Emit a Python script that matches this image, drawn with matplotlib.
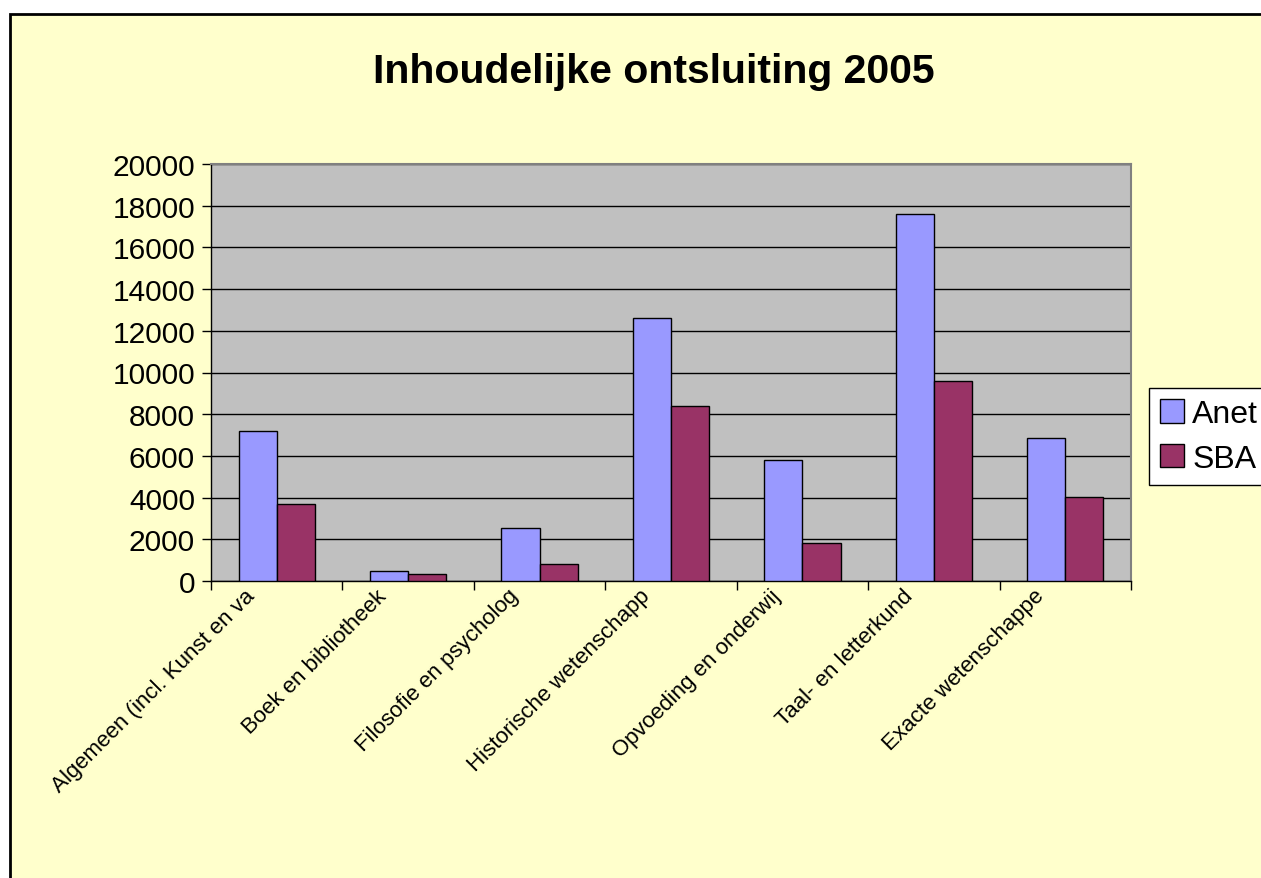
import numpy as np
import matplotlib
matplotlib.use('Agg')
import matplotlib.pyplot as plt
from matplotlib.patches import Rectangle
from matplotlib.transforms import ScaledTranslation

plt.rcParams['font.family'] = ['Liberation Sans', 'DejaVu Sans']

title = "Inhoudelijke ontsluiting 2005"
categories = ["Algemeen (incl. Kunst en va", "Boek en bibliotheek", "Filosofie en psycholog",
              "Historische wetenschapp", "Opvoeding en onderwij", "Taal- en letterkund",
              "Exacte wetenschappe"]
anet = [7200, 500, 2550, 12600, 5800, 17600, 6850]
sba = [3700, 330, 800, 8400, 1800, 9600, 4050]
yticks = np.arange(0, 20001, 2000)

fig = plt.figure(figsize=(12.61, 8.79), dpi=100)
fig.patch.set_facecolor('white')
# yellow chart area with black border (runs off right/bottom edge)
fig.patches.append(Rectangle((10 / 1261, -0.01), 1.0, 1 - 15 / 879 + 0.01,
                             transform=fig.transFigure, facecolor='#FFFFCC',
                             edgecolor='black', linewidth=2, zorder=-10))

ax = fig.add_axes([211 / 1261, 1 - 582 / 879, 920 / 1261, 417 / 879])
ax.set_facecolor('#C0C0C0')

x = np.arange(len(categories))
w = 0.29
ax.bar(x - w / 2, anet, w, color='#9999FF', edgecolor='black', linewidth=1, label='Anet', zorder=3)
ax.bar(x + w / 2, sba, w, color='#993366', edgecolor='black', linewidth=1, label='SBA', zorder=3)

ax.set_xlim(-0.5, len(categories) - 0.5)
ax.set_ylim(0, 20000)
ax.set_yticks(yticks)
ax.set_yticklabels([str(v) for v in yticks], fontsize=21.5)
ax.yaxis.grid(True, color='black', linewidth=1, zorder=1)
ax.set_axisbelow(True)

# ticks at category boundaries, labels at centres
ax.set_xticks(np.arange(-0.5, len(categories), 1.0))
ax.set_xticklabels([])
ax.set_xticks(x, minor=True)
ax.set_xticklabels(categories, minor=True, rotation=45, ha='right', va='top',
                   rotation_mode='anchor', fontsize=16)
ax.tick_params(axis='x', which='minor', length=0, pad=0)
ax.tick_params(axis='both', which='major', direction='out', length=6.5, width=1, color='black')
ax.tick_params(axis='y', pad=5)
offset = ScaledTranslation(-0.32, -0.04, fig.dpi_scale_trans)
for lab in ax.get_xticklabels(minor=True):
    lab.set_transform(lab.get_transform() + offset)

for s in ['top', 'right']:
    ax.spines[s].set_color('#808080')
    ax.spines[s].set_linewidth(1.5)
for s in ['left', 'bottom']:
    ax.spines[s].set_color('black')
    ax.spines[s].set_linewidth(1)

fig.text(654 / 1261, 1 - 72 / 879, title, ha='center', va='center', fontsize=29.5, fontweight='bold')

leg = fig.legend(loc='upper left', bbox_to_anchor=(1149 / 1261, 1 - 389 / 879), fontsize=23,
                 frameon=True, fancybox=False, edgecolor='black', facecolor='white', framealpha=1,
                 handlelength=0.75, handleheight=0.75, handletextpad=0.25, borderpad=0.35,
                 labelspacing=0.45, borderaxespad=0)
leg.get_frame().set_linewidth(1)

fig.savefig('out.png', dpi=100, facecolor=fig.get_facecolor())
